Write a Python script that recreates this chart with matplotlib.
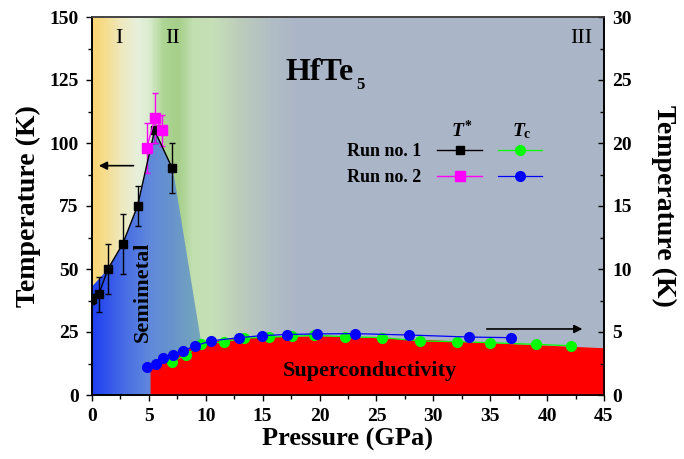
import numpy as np
import matplotlib
matplotlib.use("Agg")
import matplotlib.pyplot as plt
from matplotlib.colors import LinearSegmentedColormap
from matplotlib.patches import Polygon
from matplotlib.ticker import MultipleLocator
from matplotlib.legend_handler import HandlerTuple

plt.rcParams["font.family"] = "Liberation Serif"
plt.rcParams["font.weight"] = "bold"
plt.rcParams["axes.labelweight"] = "bold"
plt.rcParams["mathtext.fontset"] = "custom"
plt.rcParams["mathtext.it"] = "Liberation Serif:italic:bold"
plt.rcParams["mathtext.rm"] = "Liberation Serif:bold"
plt.rcParams["mathtext.bf"] = "Liberation Serif:bold"

# T* (left axis, K)
tstar1_p = [0.0, 0.6, 1.4, 2.7, 4.0, 5.5, 7.05]
tstar1_t = [38, 40, 50, 60, 75, 105, 90]
tstar1_err = [2, 7, 10, 12, 8, 5, 10]

tstar2_p = [4.8, 5.55, 6.15]
tstar2_t = [98, 110, 105]
tstar2_err = [10, 10, 6]

# Tc (right axis, K)
tc1_p = [7.05, 8.26, 9.6, 11.6, 13.36, 15.58, 17.6, 19.5, 22.2, 25.5, 28.8, 32.1, 35.0, 39.0, 42.1]
tc1 = [2.65, 3.18, 4.03, 4.22, 4.5, 4.6, 4.65, 4.74, 4.63, 4.55, 4.29, 4.23, 4.15, 4.02, 3.91]

tc2_p = [4.8, 5.6, 6.2, 7.1, 8.0, 9.05, 10.5, 12.95, 14.9, 17.1, 19.8, 23.1, 27.9, 33.15, 36.85]
tc2 = [2.2, 2.5, 2.9, 3.15, 3.5, 3.9, 4.3, 4.55, 4.71, 4.8, 4.85, 4.87, 4.76, 4.6, 4.55]

# superconducting dome boundary (right axis)
dome_p = [5.1, 6, 7, 8, 9, 10, 12, 15, 20, 25, 30, 35, 40, 45]
dome_tc = [2.1, 2.6, 3.0, 3.45, 3.9, 4.2, 4.45, 4.62, 4.7, 4.55, 4.38, 4.15, 3.95, 3.75]

# semimetal region outline (left axis)
semimetal_p = [0, 0, 1.4, 2.7, 4.0, 5.5, 7.1, 9.7, 9.7]
semimetal_t = [0, 43, 50, 60, 75, 105, 90, 18, 0]

fig = plt.figure(figsize=(6.84, 4.59), dpi=100)
ax = fig.add_axes([92 / 684, 64 / 459, 512 / 684, 378 / 459])
ax2 = ax.twinx()

# background phases I / II / III
bg_pos = [0, 1, 2.5, 4, 5, 6.2, 7.5, 8.8, 10.5, 13, 16, 18, 45]
bg_col = ["#f9d574", "#f6dc8c", "#eee9c0", "#e6f0dc", "#d9ecce", "#aed594", "#a6cf8a",
          "#c2dfb1", "#c6e0b7", "#bccdbb", "#b0bcc5", "#acb6c9", "#abb5c8"]
bg_cmap = LinearSegmentedColormap.from_list("bg", list(zip(np.array(bg_pos) / 45, bg_col)))
grad = np.linspace(0, 1, 900).reshape(1, -1)
ax.imshow(grad, cmap=bg_cmap, extent=[0, 45, 0, 150], aspect="auto",
          interpolation="bilinear", zorder=0)

# semimetal region with blue gradient
sm_pos = [0, 3, 5, 7, 9.7]
sm_col = ["#1f3ff2", "#4a6fe4", "#5f88dc", "#6894cc", "#76a8b8"]
sm_cmap = LinearSegmentedColormap.from_list("sm", list(zip(np.array(sm_pos) / 9.7, sm_col)))
poly = Polygon(np.column_stack([semimetal_p, semimetal_t]), closed=True,
               transform=ax.transData, facecolor="none", edgecolor="none")
ax.add_patch(poly)
im = ax.imshow(grad, cmap=sm_cmap, extent=[0, 9.7, 0, 150], aspect="auto",
               interpolation="bilinear", zorder=1)
im.set_clip_path(poly)

# T* data
ax.errorbar(tstar1_p, tstar1_t, yerr=tstar1_err, fmt="none", ecolor="k",
            elinewidth=1, capsize=2.5, capthick=1, zorder=4)
l_t1, = ax.plot(tstar1_p, tstar1_t, "-s", color="k", ms=6, lw=1, zorder=5)
ax.errorbar(tstar2_p, tstar2_t, yerr=tstar2_err, fmt="none", ecolor="#ff00ff",
            elinewidth=1, capsize=2.5, capthick=1, zorder=4)
l_t2, = ax.plot(tstar2_p, tstar2_t, "-s", color="#ff00ff", ms=6.5, lw=1, zorder=5)

ax.set_xlim(0, 45)
ax.set_ylim(0, 150)
ax2.set_ylim(0, 30)

# superconducting dome
ax2.fill_between(dome_p, 0, dome_tc, color="#ff0000", lw=0, zorder=1)

l_tc1, = ax2.plot(tc1_p, tc1, "-o", color="#00ff00", ms=7, lw=0.9, zorder=3)
l_tc2, = ax2.plot(tc2_p, tc2, "-o", color="#0000ff", ms=7, lw=0.9, zorder=4)

# region labels
for x, s in [(2.4, "I"), (7.1, "II"), (43.0, "III")]:
    ax.text(x, 139.7, s, ha="center", va="baseline", fontsize=16, fontweight="normal", zorder=6)

t = ax.text(17.0, 125, "HfTe", fontsize=23, ha="left", va="baseline", zorder=6)
ax.annotate("5", xy=(1, 0), xycoords=t, xytext=(1.5, -1.5), textcoords="offset points",
            fontsize=12, va="baseline", ha="left")

ax.text(4.5, 41, "Semimetal", rotation=90, ha="center", va="center", fontsize=16, zorder=6)
ax2.text(24.4, 1.9, "Superconductivity", ha="center", va="center", fontsize=16, zorder=6)

ax.annotate("", xy=(0.6, 91), xytext=(3.65, 91),
            arrowprops=dict(arrowstyle="-|>", color="k", lw=1.2, mutation_scale=12,
                            shrinkA=0, shrinkB=0), zorder=6)
ax2.annotate("", xy=(43.1, 5.24), xytext=(34.7, 5.24),
             arrowprops=dict(arrowstyle="-|>", color="k", lw=1.2, mutation_scale=12,
                             shrinkA=0, shrinkB=0), zorder=6)

# legend
ax2.legend([(l_t1, l_tc1), (l_t2, l_tc2)], ["Run no. 1", "Run no. 2"],
           handler_map={tuple: HandlerTuple(ndivide=None, pad=0.9)},
           markerfirst=False, frameon=False, fontsize=13, handlelength=5.8,
           handletextpad=0.9, labelspacing=0.52, borderpad=0, borderaxespad=0,
           numpoints=1, loc="upper left", bbox_to_anchor=(0.498, 0.667))
ax2.text(32.5, 20.5, r"$T^{*}$", ha="center", va="baseline", fontsize=14)
ax2.text(37.8, 20.5, r"$T_{\mathrm{c}}$", ha="center", va="baseline", fontsize=14)

# axes styling
ax.set_xticks(np.arange(0, 46, 5))
ax.set_yticks(np.arange(0, 151, 25))
ax2.set_yticks(np.arange(0, 31, 5))
ax.xaxis.set_minor_locator(MultipleLocator(2.5))
ax.yaxis.set_minor_locator(MultipleLocator(12.5))
ax2.yaxis.set_minor_locator(MultipleLocator(2.5))
ax.tick_params(which="both", direction="out", top=False, right=False,
               labelsize=14, width=1, pad=5)
ax.tick_params(which="major", length=4.5)
ax.tick_params(which="minor", length=3)
ax2.tick_params(which="both", direction="in", labelsize=14, width=1, pad=6)
ax2.tick_params(which="major", length=4.5)
ax2.tick_params(which="minor", length=3)
for a in (ax, ax2):
    for sp in a.spines.values():
        sp.set_linewidth(1.2)
    a.spines["top"].set_color("#444444")

ax.set_xlabel("Pressure (GPa)", fontsize=19, labelpad=2)
ax.set_ylabel("Temperature (K)", fontsize=20, labelpad=6)
ax2.set_ylabel("Temperature (K)", fontsize=20, rotation=270, va="bottom", labelpad=14)

fig.savefig("out.png", dpi=100)
